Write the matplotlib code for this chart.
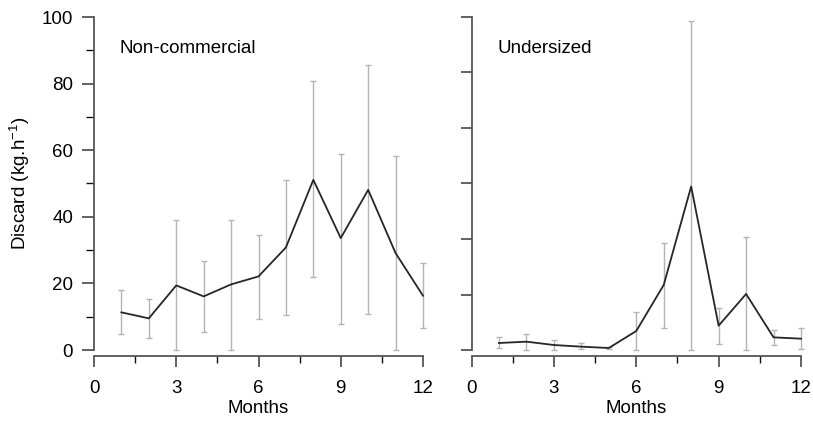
import matplotlib
matplotlib.use("Agg")
import matplotlib.pyplot as plt
from matplotlib.ticker import MultipleLocator
import numpy as np

plt.rcParams['font.family'] = ['Liberation Sans', 'DejaVu Sans']

months = [1, 2, 3, 4, 5, 6, 7, 8, 9, 10, 11, 12]

# Non-commercial discard: mean with lower / upper bounds of the error bar
noncom_mean = [11.3, 9.5, 19.4, 16.1, 19.7, 22.1, 30.8, 51.1, 33.6, 48.1, 29.1, 16.3]
noncom_low = [4.7, 3.5, 0.0, 5.3, 0.0, 9.3, 10.5, 21.9, 7.9, 10.8, 0.0, 6.5]
noncom_high = [17.9, 15.4, 38.9, 26.7, 38.9, 34.6, 51.1, 80.9, 58.8, 85.7, 58.2, 26.2]

# Undersized discard
under_mean = [0.63, 0.75, 0.45, 0.30, 0.18, 1.71, 5.86, 14.73, 2.19, 5.05, 1.14, 1.02]
under_low = [0.15, 0.0, 0.0, 0.06, 0.06, 0.0, 1.95, 0.0, 0.51, 0.0, 0.45, 0.06]
under_high = [1.14, 1.41, 0.87, 0.60, 0.30, 3.40, 9.68, 29.67, 3.79, 10.19, 1.80, 2.01]

x_ticks = [0, 3, 6, 9, 12]
x_tick_labels = ["0", "3", "6", "9", "12"]
y_ticks_left = [0, 20, 40, 60, 80, 100]

fig = plt.figure(figsize=(8.13, 4.23), dpi=100)
ax1 = fig.add_axes([94 / 813, 73 / 423, 329 / 813, 333 / 423])
ax2 = fig.add_axes([471.5 / 813, 73 / 423, 329.5 / 813, 333 / 423])

spine_col = "#555555"
err_col = "#b4b4b4"
fs = 13.5


def panel(ax, mean, low, high, ymax, title):
    mean = np.asarray(mean)
    yerr = [mean - np.asarray(low), np.asarray(high) - mean]
    eb = ax.errorbar(months, mean, yerr=yerr, fmt="none", ecolor=err_col,
                     elinewidth=1.0, capsize=2.3, capthick=1.0, zorder=2)
    for art in eb.get_children():
        art.set_clip_on(False)
    ax.plot(months, mean, color="#262626", lw=1.3, zorder=3, clip_on=False)
    ax.set_xlim(0, 12)
    ax.set_ylim(0, ymax)
    for s in ("top", "right"):
        ax.spines[s].set_visible(False)
    ax.spines["bottom"].set_position(("outward", 4.3))
    ax.spines["bottom"].set_bounds(0, 12)
    ax.spines["left"].set_bounds(0, ymax)
    for s in ("bottom", "left"):
        ax.spines[s].set_color(spine_col)
        ax.spines[s].set_linewidth(1.3)
    ax.set_xticks(x_ticks)
    ax.set_xticklabels(x_tick_labels)
    ax.xaxis.set_minor_locator(MultipleLocator(1.5))
    ax.tick_params(axis="x", which="major", length=8, width=1.3,
                   color=spine_col, labelsize=fs, pad=9)
    ax.tick_params(axis="x", which="minor", length=5, width=1.0, color="#111111")
    ax.set_xlabel("Months", fontsize=fs, labelpad=2.5)
    ax.text(0.078, 0.905, title, transform=ax.transAxes, fontsize=fs,
            ha="left", va="center")


panel(ax1, noncom_mean, noncom_low, noncom_high, 100, "Non-commercial")
ax1.set_yticks(y_ticks_left)
ax1.yaxis.set_minor_locator(MultipleLocator(10))
ax1.tick_params(axis="y", which="major", length=8.5, width=1.3,
                color=spine_col, labelsize=fs, pad=6.5)
ax1.tick_params(axis="y", which="minor", length=5.5, width=1.0, color="#111111")
ax1.set_ylabel("Discard (kg.h$^{\\mathregular{-1}}$)", fontsize=fs, labelpad=7)

panel(ax2, under_mean, under_low, under_high, 30, "Undersized")
ax2.set_yticks([0, 5, 10, 15, 20, 25, 30])
ax2.set_yticklabels([])
ax2.tick_params(axis="y", which="major", length=8, width=1.3, color=spine_col)

fig.savefig("out.png", dpi=100)
